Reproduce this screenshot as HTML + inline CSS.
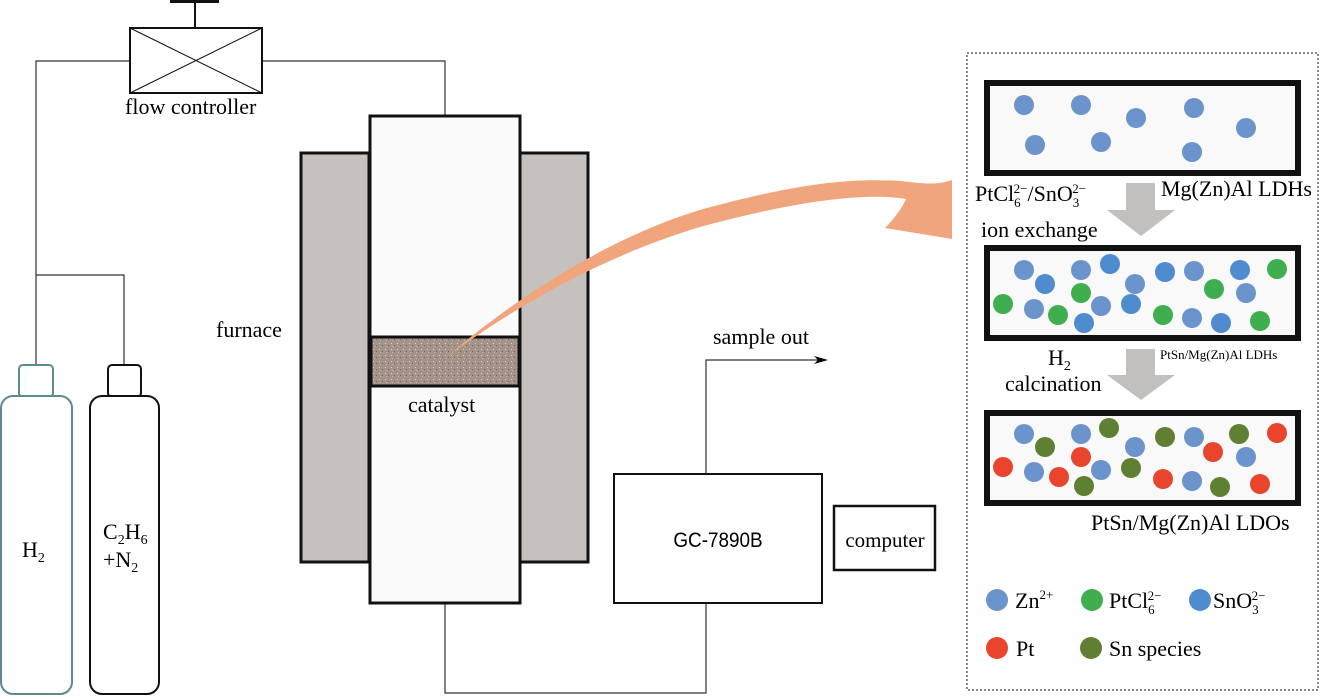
<!DOCTYPE html>
<html><head><meta charset="utf-8"><style>
html,body{margin:0;padding:0;background:#fff;}
svg{display:block;font-family:"Liberation Serif",serif;}
</style></head><body>
<svg width="1323" height="699" viewBox="0 0 1323 699" xmlns="http://www.w3.org/2000/svg">
<defs>
<pattern id="grain" width="6" height="6" patternUnits="userSpaceOnUse">
<rect width="6" height="6" fill="#a39389"/>
<rect x="1" y="1" width="1" height="1" fill="#d8cfc6"/>
<rect x="4" y="3" width="1" height="1" fill="#6f625a"/>
<rect x="2" y="4" width="1" height="1" fill="#c2b6ac"/>
</pattern>
</defs>
<g stroke="#333" stroke-width="1.2" fill="none">
<polyline points="130,61 36,61 36,365"/>
<polyline points="36,275 124,275 124,365"/>
<polyline points="262,61 445,61 445,115"/>
<polyline points="445,603 445,693 706,693 706,603"/>
<polyline points="706,473 706,360 822,360"/>
</g>
<polygon points="828,360 814,356 818,360 814,364" fill="#000"/>
<rect x="170" y="0" width="49" height="3" fill="#111"/>
<line x1="195" y1="2" x2="195" y2="28" stroke="#111" stroke-width="2"/>
<rect x="130" y="28" width="132" height="65" fill="#fff" stroke="#111" stroke-width="2"/>
<line x1="130" y1="28" x2="262" y2="93" stroke="#111" stroke-width="1"/>
<line x1="262" y1="28" x2="130" y2="93" stroke="#111" stroke-width="1"/>
<text x="125" y="114" font-size="22">flow controller</text>
<rect x="19" y="365" width="34" height="32" rx="4" fill="#fff" stroke="#5b8c8c" stroke-width="2"/>
<rect x="1" y="396" width="71" height="298" rx="12" fill="#fff" stroke="#5b8c8c" stroke-width="2"/>
<rect x="108" y="365" width="33" height="32" rx="4" fill="#fff" stroke="#111" stroke-width="2"/>
<rect x="90" y="396" width="69" height="298" rx="12" fill="#fff" stroke="#111" stroke-width="2"/>
<text x="22" y="557" font-size="22">H<tspan font-size="14" dy="5">2</tspan></text>
<text x="103" y="539" font-size="22">C<tspan font-size="14" dy="5">2</tspan><tspan dy="-5">H</tspan><tspan font-size="14" dy="5">6</tspan></text>
<text x="103" y="567" font-size="22">+N<tspan font-size="14" dy="5">2</tspan></text>
<rect x="301" y="153" width="68" height="409" fill="#c5c1bf" stroke="#111" stroke-width="3"/>
<rect x="520" y="153" width="68" height="409" fill="#c5c1bf" stroke="#111" stroke-width="3"/>
<rect x="370" y="116" width="150" height="487" fill="#fafafa" stroke="#111" stroke-width="3"/>
<rect x="371" y="337" width="148" height="49" fill="url(#grain)" stroke="#111" stroke-width="3"/>
<text x="216" y="337" font-size="22">furnace</text>
<text x="408" y="412" font-size="22">catalyst</text>
<text x="713" y="344" font-size="22">sample out</text>
<rect x="614" y="474" width="208" height="129" fill="#fff" stroke="#111" stroke-width="2"/>
<text x="718" y="547" font-size="21" text-anchor="middle" font-family="Liberation Sans, sans-serif" transform="translate(718 0) scale(0.9 1) translate(-718 0)">GC-7890B</text>
<rect x="834" y="506" width="101" height="64" fill="#fff" stroke="#111" stroke-width="2.5"/>
<text x="885" y="547" font-size="21" text-anchor="middle">computer</text>
<path d="M447,357 C500,310 600,240 700,210 C780,188 840,177 900,181 C920,183 935,186 952,180 L952,239 L885,228 C895,218 902,208 906,199 C860,191 780,205 700,227 C600,257 510,310 447,357 Z" fill="#f1a57c"/>
<rect x="967" y="53" width="351" height="637" fill="none" stroke="#888" stroke-width="2" stroke-dasharray="2,2"/>
<g fill="#f9f9f9" stroke="#111" stroke-width="6">
<rect x="987" y="83" width="311" height="90"/>
<rect x="987" y="248" width="311" height="90"/>
<rect x="987" y="413" width="311" height="90"/>
</g>
<polygon points="1126,183 1155,183 1155,210 1175,210 1141,236 1107,210 1126,210" fill="#c2c0be"/>
<polygon points="1126,349 1155,349 1155,375 1175,375 1141,400 1107,375 1126,375" fill="#c2c0be"/>
<g fill="#6b93cc">
<circle cx="1024" cy="105" r="10"/><circle cx="1081" cy="105" r="10"/><circle cx="1136" cy="118" r="10"/><circle cx="1194" cy="108" r="10"/><circle cx="1246" cy="128" r="10"/><circle cx="1035" cy="145" r="10"/><circle cx="1101" cy="142" r="10"/><circle cx="1192" cy="152" r="10"/>
</g>
<g fill="#6b93cc">
<circle cx="1024" cy="270" r="10"/><circle cx="1081" cy="270" r="10"/><circle cx="1135" cy="284" r="10"/><circle cx="1194" cy="271" r="10"/><circle cx="1246" cy="293" r="10"/><circle cx="1034" cy="309" r="10"/><circle cx="1101" cy="306" r="10"/><circle cx="1192" cy="318" r="10"/>
</g>
<g fill="#4f8bcf">
<circle cx="1045" cy="284" r="10"/><circle cx="1110" cy="264" r="10"/><circle cx="1165" cy="272" r="10"/><circle cx="1240" cy="270" r="10"/><circle cx="1131" cy="304" r="10"/><circle cx="1084" cy="323" r="10"/><circle cx="1221" cy="323" r="10"/>
</g>
<g fill="#3fae4f">
<circle cx="1277" cy="269" r="10"/><circle cx="1081" cy="293" r="10"/><circle cx="1214" cy="289" r="10"/><circle cx="1003" cy="304" r="10"/><circle cx="1058" cy="315" r="10"/><circle cx="1163" cy="315" r="10"/><circle cx="1260" cy="321" r="10"/>
</g>
<g fill="#6b93cc">
<circle cx="1024" cy="434" r="10"/><circle cx="1081" cy="434" r="10"/><circle cx="1135" cy="447" r="10"/><circle cx="1194" cy="437" r="10"/><circle cx="1246" cy="457" r="10"/><circle cx="1034" cy="472" r="10"/><circle cx="1101" cy="470" r="10"/><circle cx="1192" cy="481" r="10"/>
</g>
<g fill="#5f7f32">
<circle cx="1045" cy="447" r="10"/><circle cx="1109" cy="428" r="10"/><circle cx="1165" cy="437" r="10"/><circle cx="1239" cy="434" r="10"/><circle cx="1131" cy="468" r="10"/><circle cx="1084" cy="486" r="10"/><circle cx="1220" cy="487" r="10"/>
</g>
<g fill="#e8452c">
<circle cx="1277" cy="433" r="10"/><circle cx="1081" cy="457" r="10"/><circle cx="1213" cy="452" r="10"/><circle cx="1003" cy="467" r="10"/><circle cx="1059" cy="477" r="10"/><circle cx="1163" cy="479" r="10"/><circle cx="1260" cy="484" r="10"/>
</g>
<text x="975" y="201" font-size="22">PtCl<tspan font-size="13" dy="6">6</tspan><tspan font-size="13" dx="-7" dy="-14">2−</tspan><tspan dy="8">/SnO</tspan><tspan font-size="13" dy="6">3</tspan><tspan font-size="13" dx="-7" dy="-14">2−</tspan></text>
<text x="1161" y="196" font-size="22">Mg(Zn)Al LDHs</text>
<text x="981" y="237" font-size="22">ion exchange</text>
<text x="1048" y="365" font-size="22">H<tspan font-size="14" dy="5">2</tspan></text>
<text x="1005" y="391" font-size="22">calcination</text>
<text x="1160" y="359" font-size="13">PtSn/Mg(Zn)Al LDHs</text>
<text x="1091" y="530" font-size="22">PtSn/Mg(Zn)Al LDOs</text>
<circle cx="997" cy="600" r="11" fill="#6b93cc"/>
<text x="1015" y="608" font-size="22">Zn<tspan font-size="13" dy="-9">2+</tspan></text>
<circle cx="1092" cy="600" r="11" fill="#3fae4f"/>
<text x="1109" y="608" font-size="22">PtCl<tspan font-size="13" dy="6">6</tspan><tspan font-size="13" dx="-7" dy="-14">2−</tspan></text>
<circle cx="1200" cy="600" r="11" fill="#4f8bcf"/>
<text x="1213" y="608" font-size="22">SnO<tspan font-size="13" dy="6">3</tspan><tspan font-size="13" dx="-7" dy="-14">2−</tspan></text>
<circle cx="997" cy="648" r="11" fill="#e8452c"/>
<text x="1016" y="656" font-size="22">Pt</text>
<circle cx="1091" cy="648" r="11" fill="#5f7f32"/>
<text x="1109" y="656" font-size="22">Sn species</text>
</svg>
</body></html>
